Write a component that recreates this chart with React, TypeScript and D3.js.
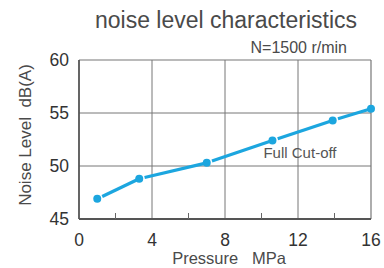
import React from 'react';
import * as d3 from 'd3';

// pressure (MPa) vs noise level dB(A)
const pressure = [1.0, 3.3, 7.0, 10.6, 13.9, 16.0];
const noise = [46.9, 48.8, 50.3, 52.4, 54.3, 55.4];
const xTicks = [0, 4, 8, 12, 16];
const xMinor = [2, 6, 10, 14];
const yTicks = [45, 50, 55, 60];

const W = 384;
const H = 268;
const FONT = '"Liberation Sans", Arial, Helvetica, sans-serif';
const BLUE = '#1ca6df';

const App = () => {
  const margin = { left: 79, right: 13, top: 60, bottom: 49 };
  const x = d3.scaleLinear().domain([0, 16]).range([margin.left, W - margin.right]);
  const y = d3.scaleLinear().domain([45, 60]).range([H - margin.bottom, margin.top]);

  const pts = pressure.map((p, i) => [x(p), y(noise[i])]);
  // line segments leave a small gap just after each marker
  const segs = pts.slice(0, -1).map((p, i) => {
    const q = pts[i + 1];
    const dx = q[0] - p[0];
    const dy = q[1] - p[1];
    const len = Math.hypot(dx, dy);
    const g = 5.5 / len;
    return { x1: p[0] + dx * g, y1: p[1] + dy * g, x2: q[0], y2: q[1] };
  });

  return (
    <svg width={W} height={H} style={{ position: 'absolute', left: 0, top: 0, background: '#fff' }} fontFamily={FONT}>
      <text x={226} y={28} textAnchor="middle" fontSize={23} fill="#4a4a4a">noise level characteristics</text>
      <text x={347} y={53} textAnchor="end" fontSize={16} fill="#4a4a4a">N=1500 r/min</text>

      {/* grid */}
      {xTicks.slice(1, -1).map(t => (
        <line key={'gx' + t} x1={x(t)} x2={x(t)} y1={y(60)} y2={y(45)} stroke="#777" strokeWidth={1} />
      ))}
      {yTicks.slice(1, -1).map(t => (
        <line key={'gy' + t} x1={x(0)} x2={x(16)} y1={y(t)} y2={y(t)} stroke="#777" strokeWidth={1} />
      ))}
      <line x1={x(0)} x2={x(16)} y1={y(60)} y2={y(60)} stroke="#777" strokeWidth={1.2} />
      <line x1={x(16)} x2={x(16)} y1={y(60)} y2={y(45)} stroke="#777" strokeWidth={1.2} />
      <line x1={x(0)} x2={x(0)} y1={y(60)} y2={y(45)} stroke="#555" strokeWidth={1.8} />
      <line x1={x(0)} x2={x(16)} y1={y(45)} y2={y(45)} stroke="#555" strokeWidth={1.8} />
      {xMinor.map(t => (
        <line key={'mx' + t} x1={x(t)} x2={x(t)} y1={y(45)} y2={y(45) - 6} stroke="#666" strokeWidth={1} />
      ))}

      {/* tick labels */}
      {xTicks.map(t => (
        <text key={'tx' + t} x={x(t)} y={246} textAnchor="middle" fontSize={17.5} fill="#333">{t}</text>
      ))}
      {yTicks.map(t => (
        <text key={'ty' + t} x={69} y={y(t) + 6} textAnchor="end" fontSize={17.5} fill="#333">{t}</text>
      ))}

      <text x={229} y={264} textAnchor="middle" fontSize={16.5} fill="#4a4a4a" xmlSpace="preserve">Pressure   MPa</text>
      <text transform={`translate(31,135) rotate(-90)`} textAnchor="middle" fontSize={17} fill="#4a4a4a" xmlSpace="preserve">Noise Level  dB(A)</text>
      <text x={300} y={158} textAnchor="middle" fontSize={15} fill="#555">Full Cut-off</text>

      {/* series */}
      {segs.map((s, i) => (
        <line key={'s' + i} {...s} stroke={BLUE} strokeWidth={3.2} />
      ))}
      {pts.map((p, i) => (
        <circle key={'p' + i} cx={p[0]} cy={p[1]} r={4} fill={BLUE} />
      ))}
    </svg>
  );
};

export default App;
